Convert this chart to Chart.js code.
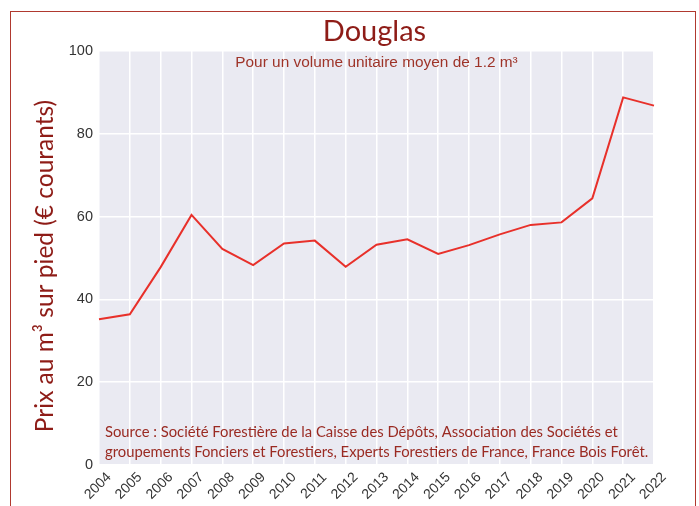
<!DOCTYPE html>
<html>
<head>
<meta charset="utf-8">
<script src="https://cdn.jsdelivr.net/npm/chart.js@4.4.0/dist/chart.umd.min.js"></script>
<style>
  html,body{margin:0;padding:0;background:#fff;}
  #wrap{position:relative;width:699px;height:506px;}
  #frame{position:absolute;left:10px;top:11px;width:686px;height:500px;border:1.5px solid #b0392f;border-bottom:none;box-sizing:border-box;pointer-events:none;}
  canvas{position:absolute;left:0;top:0;}
</style>
</head>
<body>
<div id="wrap">
  <canvas id="c" width="699" height="506"></canvas>
  <div id="frame"></div>
</div>
<script>
const years = ['2004','2005','2006','2007','2008','2009','2010','2011','2012','2013','2014','2015','2016','2017','2018','2019','2020','2021','2022'];
const prices = [35.2, 36.4, 47.8, 60.4, 52.2, 48.3, 53.5, 54.2, 47.9, 53.2, 54.5, 51.0, 53.1, 55.7, 58.0, 58.6, 64.4, 88.8, 86.8];
const yTicks = [0, 20, 40, 60, 80, 100];
const titleText = 'Douglas';
const subtitleText = 'Pour un volume unitaire moyen de 1.2 m³';
const yTitleText = 'Prix au m³ sur pied (€ courants)';
const sourceLines = [
  'Source : Société Forestière de la Caisse des Dépôts, Association des Sociétés et',
  'groupements Fonciers et Forestiers, Experts Forestiers de France, France Bois Forêt.'
];

const decor = {
  id: 'decor',
  beforeDraw(chart) {
    const {ctx, chartArea: a} = chart;
    ctx.save();
    ctx.fillStyle = '#eaeaf2';
    ctx.fillRect(a.left, a.top, a.right - a.left, a.bottom - a.top);
    ctx.restore();
  },
  afterDraw(chart) {
    const {ctx, chartArea: a} = chart;
    const cx = (a.left + a.right) / 2;
    ctx.save();
    // title
    ctx.fillStyle = '#8e1c17';
    ctx.font = '29px Lato';
    ctx.textAlign = 'center';
    ctx.textBaseline = 'alphabetic';
    ctx.fillText(titleText, cx - 2, 41);
    // subtitle (slightly wide face)
    ctx.save();
    ctx.fillStyle = '#9e3328';
    ctx.font = '14px "Liberation Sans"';
    ctx.translate(cx, 67);
    ctx.scale(1.1, 1);
    ctx.fillText(subtitleText, 0, 0);
    ctx.restore();
    // source note
    ctx.textAlign = 'left';
    ctx.font = '14.8px Lato';
    ctx.fillStyle = '#9a2a22';
    ctx.fillText(sourceLines[0], a.left + 6, a.bottom - 28);
    ctx.fillText(sourceLines[1], a.left + 6, a.bottom - 8);
    // y axis title
    ctx.save();
    ctx.translate(45, 266);
    ctx.rotate(-Math.PI / 2);
    ctx.textAlign = 'center';
    ctx.textBaseline = 'middle';
    ctx.font = '24.5px Lato';
    ctx.fillStyle = '#8e1c17';
    ctx.fillText(yTitleText, 0, 0);
    ctx.restore();
    // x tick labels, centred on tick, rotated
    const xs = chart.scales.x;
    ctx.fillStyle = '#333';
    ctx.font = '14px "Liberation Sans"';
    ctx.textAlign = 'center';
    ctx.textBaseline = 'middle';
    years.forEach((lab, i) => {
      const x = xs.getPixelForValue(i);
      ctx.save();
      ctx.translate(x - 1, 486);
      ctx.rotate(-45 * Math.PI / 180);
      ctx.fillText(lab, 0, 0);
      ctx.restore();
    });
    ctx.restore();
  }
};

new Chart(document.getElementById('c'), {
  type: 'line',
  data: {
    labels: years,
    datasets: [{
      data: prices,
      borderColor: '#e8302a',
      borderWidth: 2,
      pointRadius: 0,
      tension: 0,
      fill: false
    }]
  },
  options: {
    responsive: false,
    animation: false,
    layout: {padding: {top: 51, left: 25, right: 45, bottom: 0}},
    plugins: {legend: {display: false}, title: {display: false}, tooltip: {enabled: false}},
    scales: {
      x: {
        offset: false,
        grid: {color: '#ffffff', lineWidth: 1.5, drawTicks: false},
        border: {display: false},
        ticks: {display: false, autoSkip: false},
        afterFit(s) { s.height = 41; }
      },
      y: {
        min: 0, max: 100,
        afterBuildTicks(s) { s.ticks = yTicks.map(v => ({value: v})); },
        grid: {color: '#ffffff', lineWidth: 1.5, drawTicks: false},
        border: {display: false},
        ticks: {color: '#333', font: {family: '"Liberation Sans"', size: 14.5}, padding: 6},
        title: {display: false},
        afterFit(s) { s.width = 74; }
      }
    }
  },
  plugins: [decor]
});
</script>
</body>
</html>
